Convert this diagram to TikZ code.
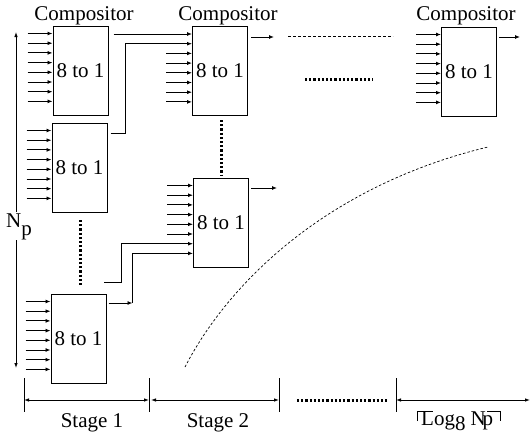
\documentclass[tikz,border=0pt]{standalone}
\usepackage{fontspec}
\setmainfont{Liberation Serif}
\newfontfamily\tms{Liberation Serif}
\usetikzlibrary{arrows.meta,calc}
\begin{document}
\begin{tikzpicture}[x=1pt,y=-1pt,
 box/.style={draw,line width=1pt,minimum width=55pt,minimum height=89pt,inner sep=0pt,font=\tms\fontsize{21}{24}\selectfont},
 lbl/.style={font=\tms\fontsize{21}{24}\selectfont,inner sep=0pt,anchor=base},
 arr/.style={line width=0.9pt,-{Latex[length=5pt,width=4pt]}},
 darr/.style={line width=0.8pt,{Latex[length=5pt,width=3.5pt]}-{Latex[length=5pt,width=3.5pt]}},
 tick/.style={line width=0.8pt},
 thickdots/.style={line width=3pt,dash pattern=on 2.2pt off 2pt},
 thindash/.style={line width=0.7pt,dash pattern=on 3pt off 2pt}]
\useasboundingbox (0,0) rectangle (531,439);

% boxes
\node[box] (A) at (80.5,70.5) {8 to 1};
\node[box] (B) at (79.5,167.5) {8 to 1};
\node[box] (C) at (78.5,338.5) {8 to 1};
\node[box] (D) at (220,71) {8 to 1};
\node[box] (E) at (221,222.5) {8 to 1};
\node[box] (F) at (469,71.5) {8 to 1};

% compositor labels
\node[lbl] (c1) at (84,20) {Compositor};
\node[lbl] (c2) at (228,20) {Compositor};
\node[lbl] (c3) at (466,20) {Compositor};

% input ports
\foreach \b in {A,B,C,D,E,F}{
  \foreach \i in {0,...,7}{
    \coordinate (\b-in\i) at ($(\b.north west)+(0,8+9.7*\i)$);
  }
}
\foreach \b in {A,B,C,F}{
  \foreach \i in {0,...,7}{
    \draw[arr] ($(\b-in\i)+(-25,0)$) -- (\b-in\i);
  }
}
\foreach \i in {2,...,7}{\draw[arr] ($(D-in\i)+(-26,0)$) -- (D-in\i);}
\foreach \i in {0,...,5}{\draw[arr] ($(E-in\i)+(-26,0)$) -- (E-in\i);}

% connections stage 1 -> stage 2
\coordinate (Ao) at ($(A.east|-D-in0)+(5,0)$);
\draw[arr] (Ao) -- (D-in0);
\coordinate (Bo) at ($(B.east)+(3,-34.5)$);
\draw[arr] (Bo) -- ++(15,0) |- (D-in1);
\coordinate (Co) at ($(C.east)+(2,-35.5)$);
\coordinate (Cc) at ($(Co)+(24,0)$);
\draw[arr] (Co) -- (Cc);
\draw[arr] (Cc) |- (E-in7);
\coordinate (Dg) at (104,282);
\draw[arr] (Dg) -- ++(17,0) |- (E-in6);

% outputs
\draw[arr] ($(D.east)+(3,-34)$) -- ++(23,0);
\draw[arr] ($(E.east)+(2,-34.5)$) -- ++(26,0);
\draw[arr] ($(F.east)+(2,-34.5)$) -- ++(21,0);

% dotted continuations
\draw[thickdots] (80,220) -- (80,285);
\draw[thickdots] (221,120) -- (221,175);
\draw[thickdots] (305,79) -- (373,79);
\draw[thindash] (288,36) -- (393,36);

% dashed curve
\draw[line width=0.7pt,dash pattern=on 2.5pt off 2pt] (185,367) .. controls (230,280) and (330,185) .. (488,147);

% Np arrow
\coordinate (NpT) at (16,32);
\coordinate (NpB) at (16,368);
\draw[darr] (NpT) -- (NpB);
\node[fill=white,inner sep=1pt,anchor=base west,font=\tms\fontsize{21}{24}\selectfont] (Np) at (5,227) {N\raisebox{-8pt}{p}};

% stage axis
\coordinate (T1) at (24,400);
\coordinate (T2) at (149,400);
\coordinate (T3) at (279,400);
\coordinate (T4) at (396,400);
\coordinate (T5) at (530,400);
\foreach \t in {T1,T2,T3,T4}{\draw[tick] ($(\t)+(0,-22)$) -- ($(\t)+(0,12)$);}
\draw[darr] (T1) -- (T2);
\draw[darr] ($(T2)+(2,0)$) -- (T3);
\draw[darr] (T4) -- (T5);
\draw[thickdots] (297,400) -- (387,400);

\node[lbl] (s1) at (92,427) {Stage 1};
\node[lbl] (s2) at (218,427) {Stage 2};
\node[lbl,anchor=base west,font=\tms\fontsize{21}{24}\selectfont] (s3) at (421,425) {Log\raisebox{-5pt}{8}\hspace{5pt}N\hspace{-3pt}p};
\draw[tick] (417,421) -- (417,411) -- (433,411);
\draw[tick] (487,411) -- (500,411) -- (500,421);
\end{tikzpicture}
\end{document}
